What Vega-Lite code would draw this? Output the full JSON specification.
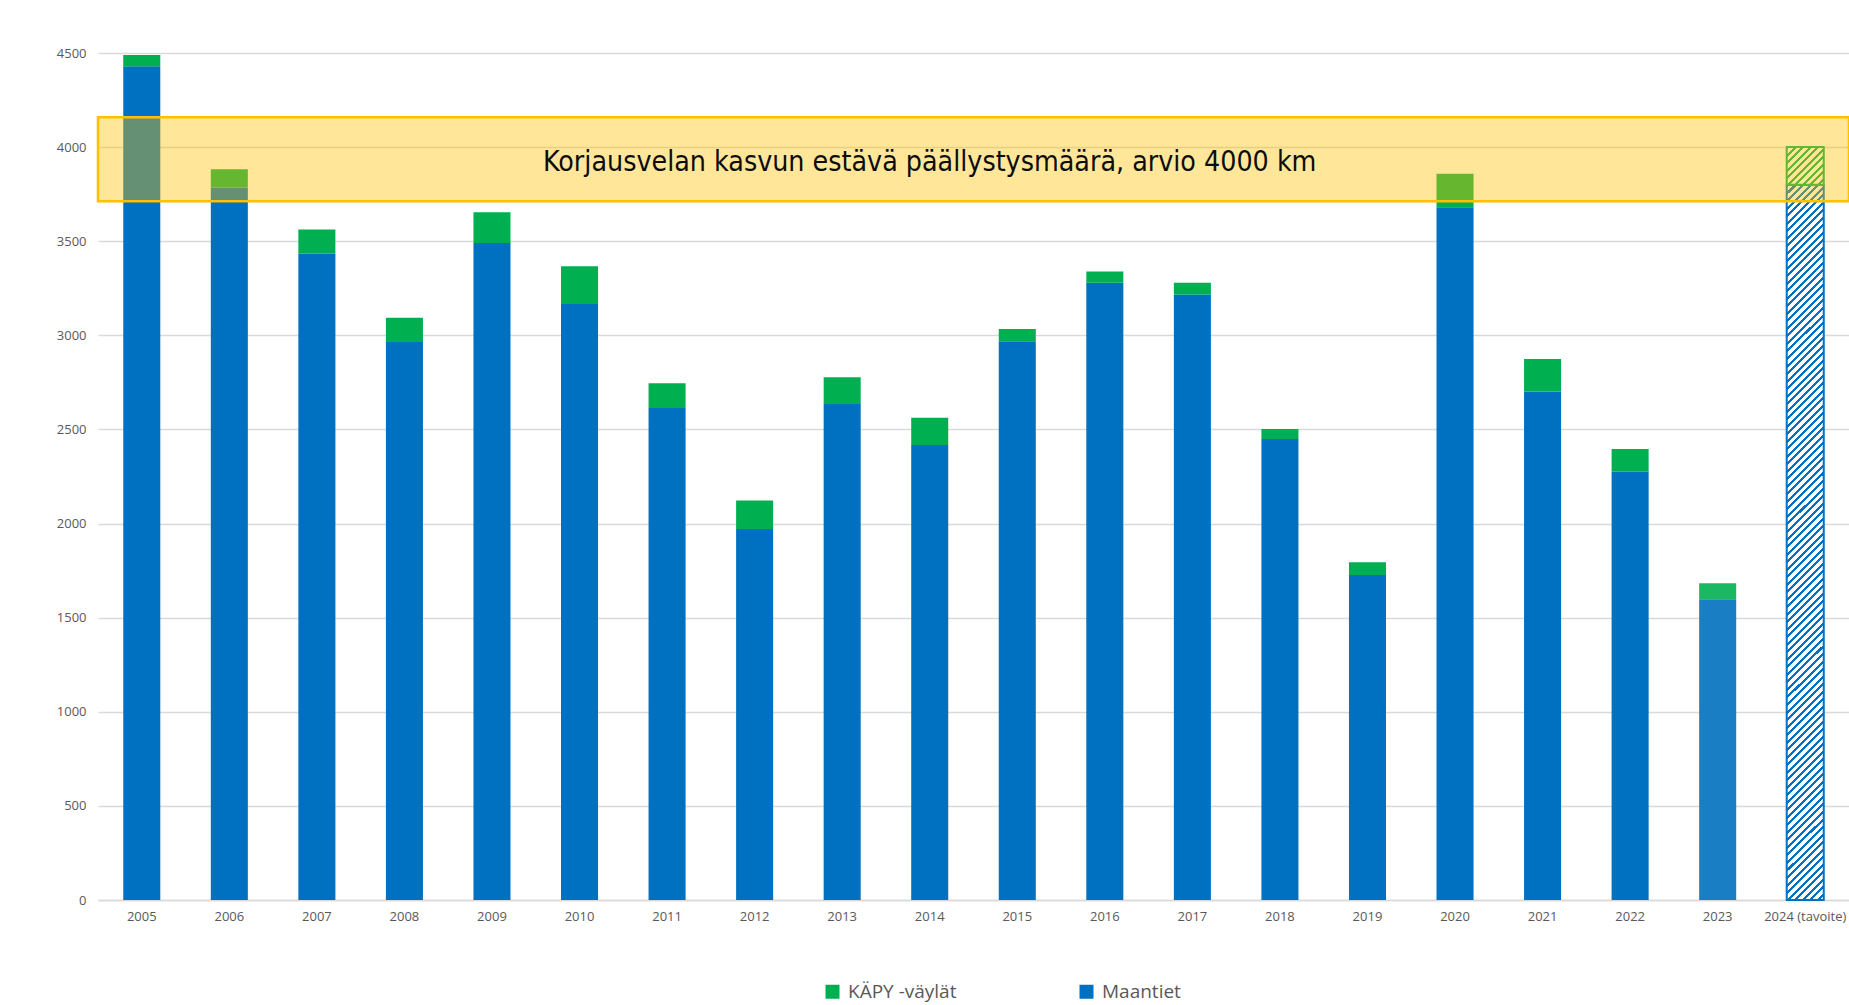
{
"$schema": "https://vega.github.io/schema/vega-lite/v6.json",
"autosize": "none",
"width": 1751,
"height": 847,
"padding": {"left": 98, "top": 53, "right": 0, "bottom": 105},
"background": "white",
"config": {"view": {"stroke": null}, "font": "Open Sans"},
"datasets": {
"bars": [
{"year":"2005","type":"Maantiet","km":4430},{"year":"2005","type":"KÄPY -väylät","km":60},
{"year":"2006","type":"Maantiet","km":3785},{"year":"2006","type":"KÄPY -väylät","km":97},
{"year":"2007","type":"Maantiet","km":3433},{"year":"2007","type":"KÄPY -väylät","km":129},
{"year":"2008","type":"Maantiet","km":2964},{"year":"2008","type":"KÄPY -väylät","km":129},
{"year":"2009","type":"Maantiet","km":3490},{"year":"2009","type":"KÄPY -väylät","km":164},
{"year":"2010","type":"Maantiet","km":3166},{"year":"2010","type":"KÄPY -väylät","km":201},
{"year":"2011","type":"Maantiet","km":2614},{"year":"2011","type":"KÄPY -väylät","km":132},
{"year":"2012","type":"Maantiet","km":1971},{"year":"2012","type":"KÄPY -väylät","km":152},
{"year":"2013","type":"Maantiet","km":2635},{"year":"2013","type":"KÄPY -väylät","km":142},
{"year":"2014","type":"Maantiet","km":2417},{"year":"2014","type":"KÄPY -väylät","km":145},
{"year":"2015","type":"Maantiet","km":2968},{"year":"2015","type":"KÄPY -väylät","km":65},
{"year":"2016","type":"Maantiet","km":3279},{"year":"2016","type":"KÄPY -väylät","km":60},
{"year":"2017","type":"Maantiet","km":3217},{"year":"2017","type":"KÄPY -väylät","km":62},
{"year":"2018","type":"Maantiet","km":2449},{"year":"2018","type":"KÄPY -väylät","km":53},
{"year":"2019","type":"Maantiet","km":1727},{"year":"2019","type":"KÄPY -väylät","km":67},
{"year":"2020","type":"Maantiet","km":3681},{"year":"2020","type":"KÄPY -väylät","km":177},
{"year":"2021","type":"Maantiet","km":2702},{"year":"2021","type":"KÄPY -väylät","km":172},
{"year":"2022","type":"Maantiet","km":2275},{"year":"2022","type":"KÄPY -väylät","km":121},
{"year":"2023","type":"Maantiet","km":1598},{"year":"2023","type":"KÄPY -väylät","km":85},
{"year":"2024 (tavoite)","type":"Maantiet","km":3800},{"year":"2024 (tavoite)","type":"KÄPY -väylät","km":200}
],
"band": [
{"from":3713,"to":4158,"label":"Korjausvelan kasvun estävä päällystysmäärä, arvio 4000 km"}
]
},
"layer": [
{
"data": {"name": "bars"},
"mark": {"type": "bar", "strokeWidth": 2},
"encoding": {
"x": {"field": "year", "type": "nominal", "sort": null,
 "scale": {"paddingInner": 0.577, "paddingOuter": 0.2885},
 "axis": {"title": null, "labelAngle": 0, "domainColor": "#d9d9d9", "domainWidth": 1.3, "ticks": false, "labelColor": "#595959", "labelFontSize": 13, "labelPadding": 10, "grid": false}},
"y": {"field": "km", "type": "quantitative", "stack": "zero",
 "scale": {"domain": [0, 4500], "nice": false},
 "axis": {"title": null, "format": "d", "values": [0,500,1000,1500,2000,2500,3000,3500,4000,4500], "domain": false, "ticks": false, "grid": true, "gridColor": "#d9d9d9", "gridWidth": 1.3, "labelColor": "#595959", "labelFontSize": 13, "labelPadding": 12}},
"order": {"field": "type", "sort": "descending"},
"stroke": {"condition": [
 {"test": "datum.year === '2024 (tavoite)' && datum.type === 'Maantiet'", "value": "#0070C0"},
 {"test": "datum.year === '2024 (tavoite)'", "value": "#00B050"}
], "value": null},
"color": {"field": "type", "type": "nominal",
 "scale": {"domain": ["KÄPY -väylät", "Maantiet"], "range": ["#00B050", "#0070C0"]},
 "legend": {"title": null, "orient": "none", "legendX": 725, "legendY": 929, "direction": "horizontal", "symbolType": "square", "symbolSize": 196, "symbolStrokeWidth": 0, "labelFontSize": 19, "labelColor": "#595959", "labelOffset": 6, "columnPadding": 120, "padding": 0},
 "condition": [
 {"test": "datum.year === '2024 (tavoite)' && datum.type === 'Maantiet'", "value": {"gradient": "linear", "x1": 0, "y1": 0, "x2": 0.0542, "y2": 1.0489, "stops": [
{"offset":0,"color":"#0070C0"},{"offset":0.004,"color":"#0070C0"},{"offset":0.004,"color":"#fff"},{"offset":0.01,"color":"#fff"},
{"offset":0.01,"color":"#0070C0"},{"offset":0.014,"color":"#0070C0"},{"offset":0.014,"color":"#fff"},{"offset":0.02,"color":"#fff"},
{"offset":0.02,"color":"#0070C0"},{"offset":0.024,"color":"#0070C0"},{"offset":0.024,"color":"#fff"},{"offset":0.03,"color":"#fff"},
{"offset":0.03,"color":"#0070C0"},{"offset":0.034,"color":"#0070C0"},{"offset":0.034,"color":"#fff"},{"offset":0.04,"color":"#fff"},
{"offset":0.04,"color":"#0070C0"},{"offset":0.044,"color":"#0070C0"},{"offset":0.044,"color":"#fff"},{"offset":0.05,"color":"#fff"},
{"offset":0.05,"color":"#0070C0"},{"offset":0.054,"color":"#0070C0"},{"offset":0.054,"color":"#fff"},{"offset":0.06,"color":"#fff"},
{"offset":0.06,"color":"#0070C0"},{"offset":0.064,"color":"#0070C0"},{"offset":0.064,"color":"#fff"},{"offset":0.07,"color":"#fff"},
{"offset":0.07,"color":"#0070C0"},{"offset":0.074,"color":"#0070C0"},{"offset":0.074,"color":"#fff"},{"offset":0.08,"color":"#fff"},
{"offset":0.08,"color":"#0070C0"},{"offset":0.084,"color":"#0070C0"},{"offset":0.084,"color":"#fff"},{"offset":0.09,"color":"#fff"},
{"offset":0.09,"color":"#0070C0"},{"offset":0.094,"color":"#0070C0"},{"offset":0.094,"color":"#fff"},{"offset":0.1,"color":"#fff"},
{"offset":0.1,"color":"#0070C0"},{"offset":0.104,"color":"#0070C0"},{"offset":0.104,"color":"#fff"},{"offset":0.11,"color":"#fff"},
{"offset":0.11,"color":"#0070C0"},{"offset":0.114,"color":"#0070C0"},{"offset":0.114,"color":"#fff"},{"offset":0.12,"color":"#fff"},
{"offset":0.12,"color":"#0070C0"},{"offset":0.124,"color":"#0070C0"},{"offset":0.124,"color":"#fff"},{"offset":0.13,"color":"#fff"},
{"offset":0.13,"color":"#0070C0"},{"offset":0.134,"color":"#0070C0"},{"offset":0.134,"color":"#fff"},{"offset":0.14,"color":"#fff"},
{"offset":0.14,"color":"#0070C0"},{"offset":0.144,"color":"#0070C0"},{"offset":0.144,"color":"#fff"},{"offset":0.15,"color":"#fff"},
{"offset":0.15,"color":"#0070C0"},{"offset":0.154,"color":"#0070C0"},{"offset":0.154,"color":"#fff"},{"offset":0.16,"color":"#fff"},
{"offset":0.16,"color":"#0070C0"},{"offset":0.164,"color":"#0070C0"},{"offset":0.164,"color":"#fff"},{"offset":0.17,"color":"#fff"},
{"offset":0.17,"color":"#0070C0"},{"offset":0.174,"color":"#0070C0"},{"offset":0.174,"color":"#fff"},{"offset":0.18,"color":"#fff"},
{"offset":0.18,"color":"#0070C0"},{"offset":0.184,"color":"#0070C0"},{"offset":0.184,"color":"#fff"},{"offset":0.19,"color":"#fff"},
{"offset":0.19,"color":"#0070C0"},{"offset":0.194,"color":"#0070C0"},{"offset":0.194,"color":"#fff"},{"offset":0.2,"color":"#fff"},
{"offset":0.2,"color":"#0070C0"},{"offset":0.204,"color":"#0070C0"},{"offset":0.204,"color":"#fff"},{"offset":0.21,"color":"#fff"},
{"offset":0.21,"color":"#0070C0"},{"offset":0.214,"color":"#0070C0"},{"offset":0.214,"color":"#fff"},{"offset":0.22,"color":"#fff"},
{"offset":0.22,"color":"#0070C0"},{"offset":0.224,"color":"#0070C0"},{"offset":0.224,"color":"#fff"},{"offset":0.23,"color":"#fff"},
{"offset":0.23,"color":"#0070C0"},{"offset":0.234,"color":"#0070C0"},{"offset":0.234,"color":"#fff"},{"offset":0.24,"color":"#fff"},
{"offset":0.24,"color":"#0070C0"},{"offset":0.244,"color":"#0070C0"},{"offset":0.244,"color":"#fff"},{"offset":0.25,"color":"#fff"},
{"offset":0.25,"color":"#0070C0"},{"offset":0.254,"color":"#0070C0"},{"offset":0.254,"color":"#fff"},{"offset":0.26,"color":"#fff"},
{"offset":0.26,"color":"#0070C0"},{"offset":0.264,"color":"#0070C0"},{"offset":0.264,"color":"#fff"},{"offset":0.27,"color":"#fff"},
{"offset":0.27,"color":"#0070C0"},{"offset":0.274,"color":"#0070C0"},{"offset":0.274,"color":"#fff"},{"offset":0.28,"color":"#fff"},
{"offset":0.28,"color":"#0070C0"},{"offset":0.284,"color":"#0070C0"},{"offset":0.284,"color":"#fff"},{"offset":0.29,"color":"#fff"},
{"offset":0.29,"color":"#0070C0"},{"offset":0.294,"color":"#0070C0"},{"offset":0.294,"color":"#fff"},{"offset":0.3,"color":"#fff"},
{"offset":0.3,"color":"#0070C0"},{"offset":0.304,"color":"#0070C0"},{"offset":0.304,"color":"#fff"},{"offset":0.31,"color":"#fff"},
{"offset":0.31,"color":"#0070C0"},{"offset":0.314,"color":"#0070C0"},{"offset":0.314,"color":"#fff"},{"offset":0.32,"color":"#fff"},
{"offset":0.32,"color":"#0070C0"},{"offset":0.324,"color":"#0070C0"},{"offset":0.324,"color":"#fff"},{"offset":0.33,"color":"#fff"},
{"offset":0.33,"color":"#0070C0"},{"offset":0.334,"color":"#0070C0"},{"offset":0.334,"color":"#fff"},{"offset":0.34,"color":"#fff"},
{"offset":0.34,"color":"#0070C0"},{"offset":0.344,"color":"#0070C0"},{"offset":0.344,"color":"#fff"},{"offset":0.35,"color":"#fff"},
{"offset":0.35,"color":"#0070C0"},{"offset":0.354,"color":"#0070C0"},{"offset":0.354,"color":"#fff"},{"offset":0.36,"color":"#fff"},
{"offset":0.36,"color":"#0070C0"},{"offset":0.364,"color":"#0070C0"},{"offset":0.364,"color":"#fff"},{"offset":0.37,"color":"#fff"},
{"offset":0.37,"color":"#0070C0"},{"offset":0.374,"color":"#0070C0"},{"offset":0.374,"color":"#fff"},{"offset":0.38,"color":"#fff"},
{"offset":0.38,"color":"#0070C0"},{"offset":0.384,"color":"#0070C0"},{"offset":0.384,"color":"#fff"},{"offset":0.39,"color":"#fff"},
{"offset":0.39,"color":"#0070C0"},{"offset":0.394,"color":"#0070C0"},{"offset":0.394,"color":"#fff"},{"offset":0.4,"color":"#fff"},
{"offset":0.4,"color":"#0070C0"},{"offset":0.404,"color":"#0070C0"},{"offset":0.404,"color":"#fff"},{"offset":0.41,"color":"#fff"},
{"offset":0.41,"color":"#0070C0"},{"offset":0.414,"color":"#0070C0"},{"offset":0.414,"color":"#fff"},{"offset":0.42,"color":"#fff"},
{"offset":0.42,"color":"#0070C0"},{"offset":0.424,"color":"#0070C0"},{"offset":0.424,"color":"#fff"},{"offset":0.43,"color":"#fff"},
{"offset":0.43,"color":"#0070C0"},{"offset":0.434,"color":"#0070C0"},{"offset":0.434,"color":"#fff"},{"offset":0.44,"color":"#fff"},
{"offset":0.44,"color":"#0070C0"},{"offset":0.444,"color":"#0070C0"},{"offset":0.444,"color":"#fff"},{"offset":0.45,"color":"#fff"},
{"offset":0.45,"color":"#0070C0"},{"offset":0.454,"color":"#0070C0"},{"offset":0.454,"color":"#fff"},{"offset":0.46,"color":"#fff"},
{"offset":0.46,"color":"#0070C0"},{"offset":0.464,"color":"#0070C0"},{"offset":0.464,"color":"#fff"},{"offset":0.47,"color":"#fff"},
{"offset":0.47,"color":"#0070C0"},{"offset":0.474,"color":"#0070C0"},{"offset":0.474,"color":"#fff"},{"offset":0.48,"color":"#fff"},
{"offset":0.48,"color":"#0070C0"},{"offset":0.484,"color":"#0070C0"},{"offset":0.484,"color":"#fff"},{"offset":0.49,"color":"#fff"},
{"offset":0.49,"color":"#0070C0"},{"offset":0.494,"color":"#0070C0"},{"offset":0.494,"color":"#fff"},{"offset":0.5,"color":"#fff"},
{"offset":0.5,"color":"#0070C0"},{"offset":0.504,"color":"#0070C0"},{"offset":0.504,"color":"#fff"},{"offset":0.51,"color":"#fff"},
{"offset":0.51,"color":"#0070C0"},{"offset":0.514,"color":"#0070C0"},{"offset":0.514,"color":"#fff"},{"offset":0.52,"color":"#fff"},
{"offset":0.52,"color":"#0070C0"},{"offset":0.524,"color":"#0070C0"},{"offset":0.524,"color":"#fff"},{"offset":0.53,"color":"#fff"},
{"offset":0.53,"color":"#0070C0"},{"offset":0.534,"color":"#0070C0"},{"offset":0.534,"color":"#fff"},{"offset":0.54,"color":"#fff"},
{"offset":0.54,"color":"#0070C0"},{"offset":0.544,"color":"#0070C0"},{"offset":0.544,"color":"#fff"},{"offset":0.55,"color":"#fff"},
{"offset":0.55,"color":"#0070C0"},{"offset":0.554,"color":"#0070C0"},{"offset":0.554,"color":"#fff"},{"offset":0.56,"color":"#fff"},
{"offset":0.56,"color":"#0070C0"},{"offset":0.564,"color":"#0070C0"},{"offset":0.564,"color":"#fff"},{"offset":0.57,"color":"#fff"},
{"offset":0.57,"color":"#0070C0"},{"offset":0.574,"color":"#0070C0"},{"offset":0.574,"color":"#fff"},{"offset":0.58,"color":"#fff"},
{"offset":0.58,"color":"#0070C0"},{"offset":0.584,"color":"#0070C0"},{"offset":0.584,"color":"#fff"},{"offset":0.59,"color":"#fff"},
{"offset":0.59,"color":"#0070C0"},{"offset":0.594,"color":"#0070C0"},{"offset":0.594,"color":"#fff"},{"offset":0.6,"color":"#fff"},
{"offset":0.6,"color":"#0070C0"},{"offset":0.604,"color":"#0070C0"},{"offset":0.604,"color":"#fff"},{"offset":0.61,"color":"#fff"},
{"offset":0.61,"color":"#0070C0"},{"offset":0.614,"color":"#0070C0"},{"offset":0.614,"color":"#fff"},{"offset":0.62,"color":"#fff"},
{"offset":0.62,"color":"#0070C0"},{"offset":0.624,"color":"#0070C0"},{"offset":0.624,"color":"#fff"},{"offset":0.63,"color":"#fff"},
{"offset":0.63,"color":"#0070C0"},{"offset":0.634,"color":"#0070C0"},{"offset":0.634,"color":"#fff"},{"offset":0.64,"color":"#fff"},
{"offset":0.64,"color":"#0070C0"},{"offset":0.644,"color":"#0070C0"},{"offset":0.644,"color":"#fff"},{"offset":0.65,"color":"#fff"},
{"offset":0.65,"color":"#0070C0"},{"offset":0.654,"color":"#0070C0"},{"offset":0.654,"color":"#fff"},{"offset":0.66,"color":"#fff"},
{"offset":0.66,"color":"#0070C0"},{"offset":0.664,"color":"#0070C0"},{"offset":0.664,"color":"#fff"},{"offset":0.67,"color":"#fff"},
{"offset":0.67,"color":"#0070C0"},{"offset":0.674,"color":"#0070C0"},{"offset":0.674,"color":"#fff"},{"offset":0.68,"color":"#fff"},
{"offset":0.68,"color":"#0070C0"},{"offset":0.684,"color":"#0070C0"},{"offset":0.684,"color":"#fff"},{"offset":0.69,"color":"#fff"},
{"offset":0.69,"color":"#0070C0"},{"offset":0.694,"color":"#0070C0"},{"offset":0.694,"color":"#fff"},{"offset":0.7,"color":"#fff"},
{"offset":0.7,"color":"#0070C0"},{"offset":0.704,"color":"#0070C0"},{"offset":0.704,"color":"#fff"},{"offset":0.71,"color":"#fff"},
{"offset":0.71,"color":"#0070C0"},{"offset":0.714,"color":"#0070C0"},{"offset":0.714,"color":"#fff"},{"offset":0.72,"color":"#fff"},
{"offset":0.72,"color":"#0070C0"},{"offset":0.724,"color":"#0070C0"},{"offset":0.724,"color":"#fff"},{"offset":0.73,"color":"#fff"},
{"offset":0.73,"color":"#0070C0"},{"offset":0.734,"color":"#0070C0"},{"offset":0.734,"color":"#fff"},{"offset":0.74,"color":"#fff"},
{"offset":0.74,"color":"#0070C0"},{"offset":0.744,"color":"#0070C0"},{"offset":0.744,"color":"#fff"},{"offset":0.75,"color":"#fff"},
{"offset":0.75,"color":"#0070C0"},{"offset":0.754,"color":"#0070C0"},{"offset":0.754,"color":"#fff"},{"offset":0.76,"color":"#fff"},
{"offset":0.76,"color":"#0070C0"},{"offset":0.764,"color":"#0070C0"},{"offset":0.764,"color":"#fff"},{"offset":0.77,"color":"#fff"},
{"offset":0.77,"color":"#0070C0"},{"offset":0.774,"color":"#0070C0"},{"offset":0.774,"color":"#fff"},{"offset":0.78,"color":"#fff"},
{"offset":0.78,"color":"#0070C0"},{"offset":0.784,"color":"#0070C0"},{"offset":0.784,"color":"#fff"},{"offset":0.79,"color":"#fff"},
{"offset":0.79,"color":"#0070C0"},{"offset":0.794,"color":"#0070C0"},{"offset":0.794,"color":"#fff"},{"offset":0.8,"color":"#fff"},
{"offset":0.8,"color":"#0070C0"},{"offset":0.804,"color":"#0070C0"},{"offset":0.804,"color":"#fff"},{"offset":0.81,"color":"#fff"},
{"offset":0.81,"color":"#0070C0"},{"offset":0.814,"color":"#0070C0"},{"offset":0.814,"color":"#fff"},{"offset":0.82,"color":"#fff"},
{"offset":0.82,"color":"#0070C0"},{"offset":0.824,"color":"#0070C0"},{"offset":0.824,"color":"#fff"},{"offset":0.83,"color":"#fff"},
{"offset":0.83,"color":"#0070C0"},{"offset":0.834,"color":"#0070C0"},{"offset":0.834,"color":"#fff"},{"offset":0.84,"color":"#fff"},
{"offset":0.84,"color":"#0070C0"},{"offset":0.844,"color":"#0070C0"},{"offset":0.844,"color":"#fff"},{"offset":0.85,"color":"#fff"},
{"offset":0.85,"color":"#0070C0"},{"offset":0.854,"color":"#0070C0"},{"offset":0.854,"color":"#fff"},{"offset":0.86,"color":"#fff"},
{"offset":0.86,"color":"#0070C0"},{"offset":0.864,"color":"#0070C0"},{"offset":0.864,"color":"#fff"},{"offset":0.87,"color":"#fff"},
{"offset":0.87,"color":"#0070C0"},{"offset":0.874,"color":"#0070C0"},{"offset":0.874,"color":"#fff"},{"offset":0.88,"color":"#fff"},
{"offset":0.88,"color":"#0070C0"},{"offset":0.884,"color":"#0070C0"},{"offset":0.884,"color":"#fff"},{"offset":0.89,"color":"#fff"},
{"offset":0.89,"color":"#0070C0"},{"offset":0.894,"color":"#0070C0"},{"offset":0.894,"color":"#fff"},{"offset":0.9,"color":"#fff"},
{"offset":0.9,"color":"#0070C0"},{"offset":0.904,"color":"#0070C0"},{"offset":0.904,"color":"#fff"},{"offset":0.91,"color":"#fff"},
{"offset":0.91,"color":"#0070C0"},{"offset":0.914,"color":"#0070C0"},{"offset":0.914,"color":"#fff"},{"offset":0.92,"color":"#fff"},
{"offset":0.92,"color":"#0070C0"},{"offset":0.924,"color":"#0070C0"},{"offset":0.924,"color":"#fff"},{"offset":0.93,"color":"#fff"},
{"offset":0.93,"color":"#0070C0"},{"offset":0.934,"color":"#0070C0"},{"offset":0.934,"color":"#fff"},{"offset":0.94,"color":"#fff"},
{"offset":0.94,"color":"#0070C0"},{"offset":0.944,"color":"#0070C0"},{"offset":0.944,"color":"#fff"},{"offset":0.95,"color":"#fff"},
{"offset":0.95,"color":"#0070C0"},{"offset":0.954,"color":"#0070C0"},{"offset":0.954,"color":"#fff"},{"offset":0.96,"color":"#fff"},
{"offset":0.96,"color":"#0070C0"},{"offset":0.964,"color":"#0070C0"},{"offset":0.964,"color":"#fff"},{"offset":0.97,"color":"#fff"},
{"offset":0.97,"color":"#0070C0"},{"offset":0.974,"color":"#0070C0"},{"offset":0.974,"color":"#fff"},{"offset":0.98,"color":"#fff"},
{"offset":0.98,"color":"#0070C0"},{"offset":0.984,"color":"#0070C0"},{"offset":0.984,"color":"#fff"},{"offset":0.99,"color":"#fff"},
{"offset":0.99,"color":"#0070C0"},{"offset":0.994,"color":"#0070C0"},{"offset":0.994,"color":"#fff"},{"offset":1,"color":"#fff"}
 ]}},
 {"test": "datum.year === '2024 (tavoite)'", "value": {"gradient": "linear", "x1": 0, "y1": 0, "x2": 0.9906, "y2": 1.0097, "stops": [
{"offset":0,"color":"#00B050"},{"offset":0.04,"color":"#00B050"},{"offset":0.04,"color":"#fff"},{"offset":0.1,"color":"#fff"},
{"offset":0.1,"color":"#00B050"},{"offset":0.14,"color":"#00B050"},{"offset":0.14,"color":"#fff"},{"offset":0.2,"color":"#fff"},
{"offset":0.2,"color":"#00B050"},{"offset":0.24,"color":"#00B050"},{"offset":0.24,"color":"#fff"},{"offset":0.3,"color":"#fff"},
{"offset":0.3,"color":"#00B050"},{"offset":0.34,"color":"#00B050"},{"offset":0.34,"color":"#fff"},{"offset":0.4,"color":"#fff"},
{"offset":0.4,"color":"#00B050"},{"offset":0.44,"color":"#00B050"},{"offset":0.44,"color":"#fff"},{"offset":0.5,"color":"#fff"},
{"offset":0.5,"color":"#00B050"},{"offset":0.54,"color":"#00B050"},{"offset":0.54,"color":"#fff"},{"offset":0.6,"color":"#fff"},
{"offset":0.6,"color":"#00B050"},{"offset":0.64,"color":"#00B050"},{"offset":0.64,"color":"#fff"},{"offset":0.7,"color":"#fff"},
{"offset":0.7,"color":"#00B050"},{"offset":0.74,"color":"#00B050"},{"offset":0.74,"color":"#fff"},{"offset":0.8,"color":"#fff"},
{"offset":0.8,"color":"#00B050"},{"offset":0.84,"color":"#00B050"},{"offset":0.84,"color":"#fff"},{"offset":0.9,"color":"#fff"},
{"offset":0.9,"color":"#00B050"},{"offset":0.94,"color":"#00B050"},{"offset":0.94,"color":"#fff"},{"offset":1,"color":"#fff"}
 ]}},
 {"test": "datum.year === '2023' && datum.type === 'Maantiet'", "value": "#1A7EC5"},
 {"test": "datum.year === '2023'", "value": "#1AB862"}
 ]
}
}
},
{
"data": {"name": "band"},
"mark": {"type": "rect", "fill": "#FFC000", "fillOpacity": 0.4, "stroke": "#FFC000", "strokeOpacity": 1, "strokeWidth": 2.5},
"encoding": {
"y": {"field": "from", "type": "quantitative", "axis": {"title": null, "format": "d"}},
"y2": {"field": "to"},
"x": {"value": 0},
"x2": {"value": "width"}
}
},
{
"data": {"name": "band"},
"mark": {"type": "text", "font": "DejaVu Sans Condensed", "fontSize": 28.3, "color": "#0d0d0d", "baseline": "alphabetic", "align": "center"},
"encoding": {
"text": {"field": "label"},
"x": {"datum": "2014"},
"y": {"datum": 3872}
}
}
]
}
